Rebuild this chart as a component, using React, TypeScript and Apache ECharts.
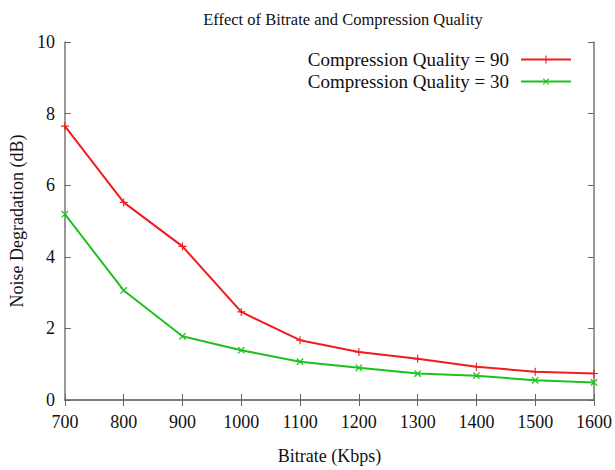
import React, { useEffect, useRef } from "react";
import * as echarts from "echarts";

const bitrates = [700, 800, 900, 1000, 1100, 1200, 1300, 1400, 1500, 1600];
const quality90 = [7.65, 5.52, 4.29, 2.46, 1.67, 1.34, 1.15, 0.93, 0.79, 0.74];
const quality30 = [5.19, 3.06, 1.78, 1.39, 1.07, 0.9, 0.74, 0.68, 0.55, 0.49];
const seriesNames = ["Compression Quality = 90", "Compression Quality = 30"];

const FONT = '"Liberation Serif", "Times New Roman", serif';
const PLUS = "path://M0,4.3H10V5.7H0ZM4.3,0H5.7V10H4.3Z";

export default function App() {
  const ref = useRef<HTMLDivElement>(null);
  useEffect(() => {
    if (!ref.current) return;
    const chart = echarts.init(ref.current, undefined, { renderer: "svg" });
    const axisLine = { show: true, lineStyle: { color: "#777", width: 1.5 } };
    const tick = { show: true, inside: true, length: 6, lineStyle: { color: "#666", width: 1 } };
    chart.setOption({
      animation: false,
      backgroundColor: "#fff",
      title: {
        text: "Effect of Bitrate and Compression Quality",
        left: 338,
        textAlign: "center",
        top: 6,
        textStyle: { fontFamily: FONT, fontSize: 16.5, fontWeight: "normal", color: "#111" },
      },
      legend: {
        orient: "vertical",
        align: "right",
        right: 38,
        top: 45,
        itemWidth: 50,
        itemHeight: 10,
        itemGap: 3,
        selectedMode: false,
        data: seriesNames,
        textStyle: { fontFamily: FONT, fontSize: 19, color: "#111", padding: [0, 7, 0, 0] },
      },
      grid: { left: 62, right: 21, top: 42, bottom: 63 },
      xAxis: [
        {
          type: "value",
          min: 700,
          max: 1600,
          interval: 100,
          name: "Bitrate (Kbps)",
          nameLocation: "middle",
          nameGap: 47,
          nameTextStyle: { fontFamily: FONT, fontSize: 18, color: "#111" },
          axisLine,
          axisTick: tick,
          splitLine: { show: false },
          axisLabel: { fontFamily: FONT, fontSize: 18, color: "#111", margin: 13, formatter: (v: number) => String(v) },
        },
        {
          type: "value",
          position: "top",
          min: 700,
          max: 1600,
          interval: 100,
          axisLine,
          axisTick: tick,
          splitLine: { show: false },
          axisLabel: { show: false },
        },
      ],
      yAxis: [
        {
          type: "value",
          min: 0,
          max: 10,
          interval: 2,
          name: "Noise Degradation (dB)",
          nameLocation: "middle",
          nameGap: 36,
          nameTextStyle: { fontFamily: FONT, fontSize: 18, color: "#111" },
          axisLine,
          axisTick: tick,
          splitLine: { show: false },
          axisLabel: { fontFamily: FONT, fontSize: 18, color: "#111", margin: 10 },
        },
        {
          type: "value",
          position: "right",
          min: 0,
          max: 10,
          interval: 2,
          axisLine,
          axisTick: tick,
          splitLine: { show: false },
          axisLabel: { show: false },
        },
      ],
      series: [
        {
          name: seriesNames[0],
          type: "line",
          data: bitrates.map((b, i) => [b, quality90[i]]),
          symbol: PLUS,
          symbolSize: 8,
          lineStyle: { color: "#f21c1c", width: 2 },
          itemStyle: { color: "#f21c1c" },
        },
        {
          name: seriesNames[1],
          type: "line",
          data: bitrates.map((b, i) => [b, quality30[i]]),
          symbol: PLUS,
          symbolSize: 9,
          symbolRotate: 45,
          lineStyle: { color: "#1ec21e", width: 2 },
          itemStyle: { color: "#1ec21e" },
        },
      ],
    });
    return () => chart.dispose();
  }, []);
  return <div ref={ref} style={{ width: 615, height: 470, position: "absolute", left: 0, top: 0 }} />;
}
